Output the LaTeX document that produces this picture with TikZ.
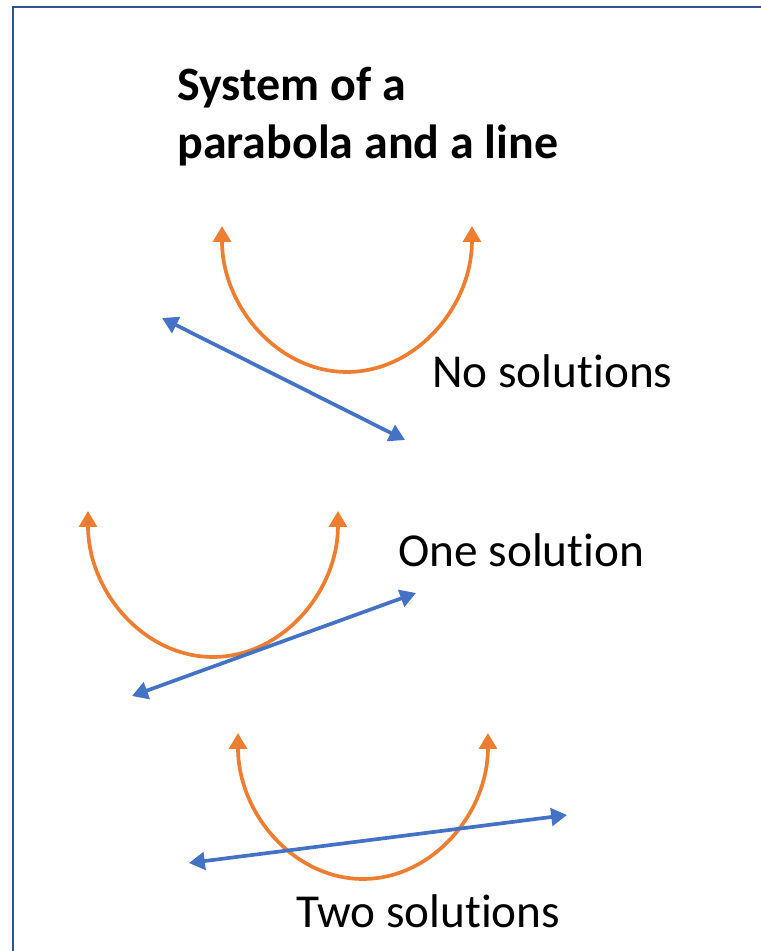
\documentclass[tikz,border=0pt]{standalone}
\usepackage{fontspec}
\setmainfont{Carlito}
\usetikzlibrary{arrows.meta}
\definecolor{marcoazul}{RGB}{47,82,143}
\definecolor{naranja}{RGB}{237,125,49}
\definecolor{azulrecta}{RGB}{68,114,196}
\newcommand\sinlig{\kern0pt }
\tikzset{
  marco/.style={
    draw=marcoazul,
    line width=1.6pt
  },
  parabola/.style={
    {Triangle[length=9pt,width=10pt]}-{Triangle[length=9pt,width=10pt]},
    draw=naranja,
    line width=2.1pt
  },
  recta/.style={
    {Triangle[length=9pt,width=10pt]}-{Triangle[length=9pt,width=10pt]},
    draw=azulrecta,
    line width=2.1pt
  },
  titulo/.style={
    anchor=base west,
    inner sep=0pt,
    align=left,
    font=\fontsize{27.3}{33}\selectfont\bfseries
  },
  rotulo/.style={
    anchor=base west,
    inner sep=0pt,
    font=\fontsize{26.9}{32}\selectfont
  }
}

\begin{document}
\begin{tikzpicture}[x=0.02cm,y=-0.02cm]
\useasboundingbox (0,0) rectangle (761,951);
\draw[marco] (13,951) -- (13,7) -- (761,7);
\node[titulo] (tit1) at (177,100) {System of a};
\node[titulo] (tit2) at (177,158) {parabola and a line};
% sin soluciones
\coordinate (p1) at (222,226);
\draw[parabola] (p1) arc[start angle=180,end angle=360,x radius=2.5cm,y radius=2.92cm];
\coordinate (r1a) at (162,318);
\coordinate (r1b) at (405,440);
\draw[recta] (r1a) -- (r1b);
\node[rotulo] (ninguna) at (432,387) {No solut\sinlig ions};
% una solucion
\coordinate (p2) at (88,511);
\draw[parabola] (p2) arc[start angle=180,end angle=360,x radius=2.5cm,y radius=2.92cm];
\coordinate (r2a) at (132,696);
\coordinate (r2b) at (416,593);
\draw[recta] (r2a) -- (r2b);
\node[rotulo] (una) at (398,566) {One solut\sinlig ion};
% dos soluciones
\coordinate (p3) at (238,733);
\draw[parabola] (p3) arc[start angle=180,end angle=360,x radius=2.5cm,y radius=2.92cm];
\coordinate (r3a) at (189,863);
\coordinate (r3b) at (567,815);
\draw[recta] (r3a) -- (r3b);
\node[rotulo] (dos) at (296,927) {Two solut\sinlig ions};
\end{tikzpicture}
\end{document}
